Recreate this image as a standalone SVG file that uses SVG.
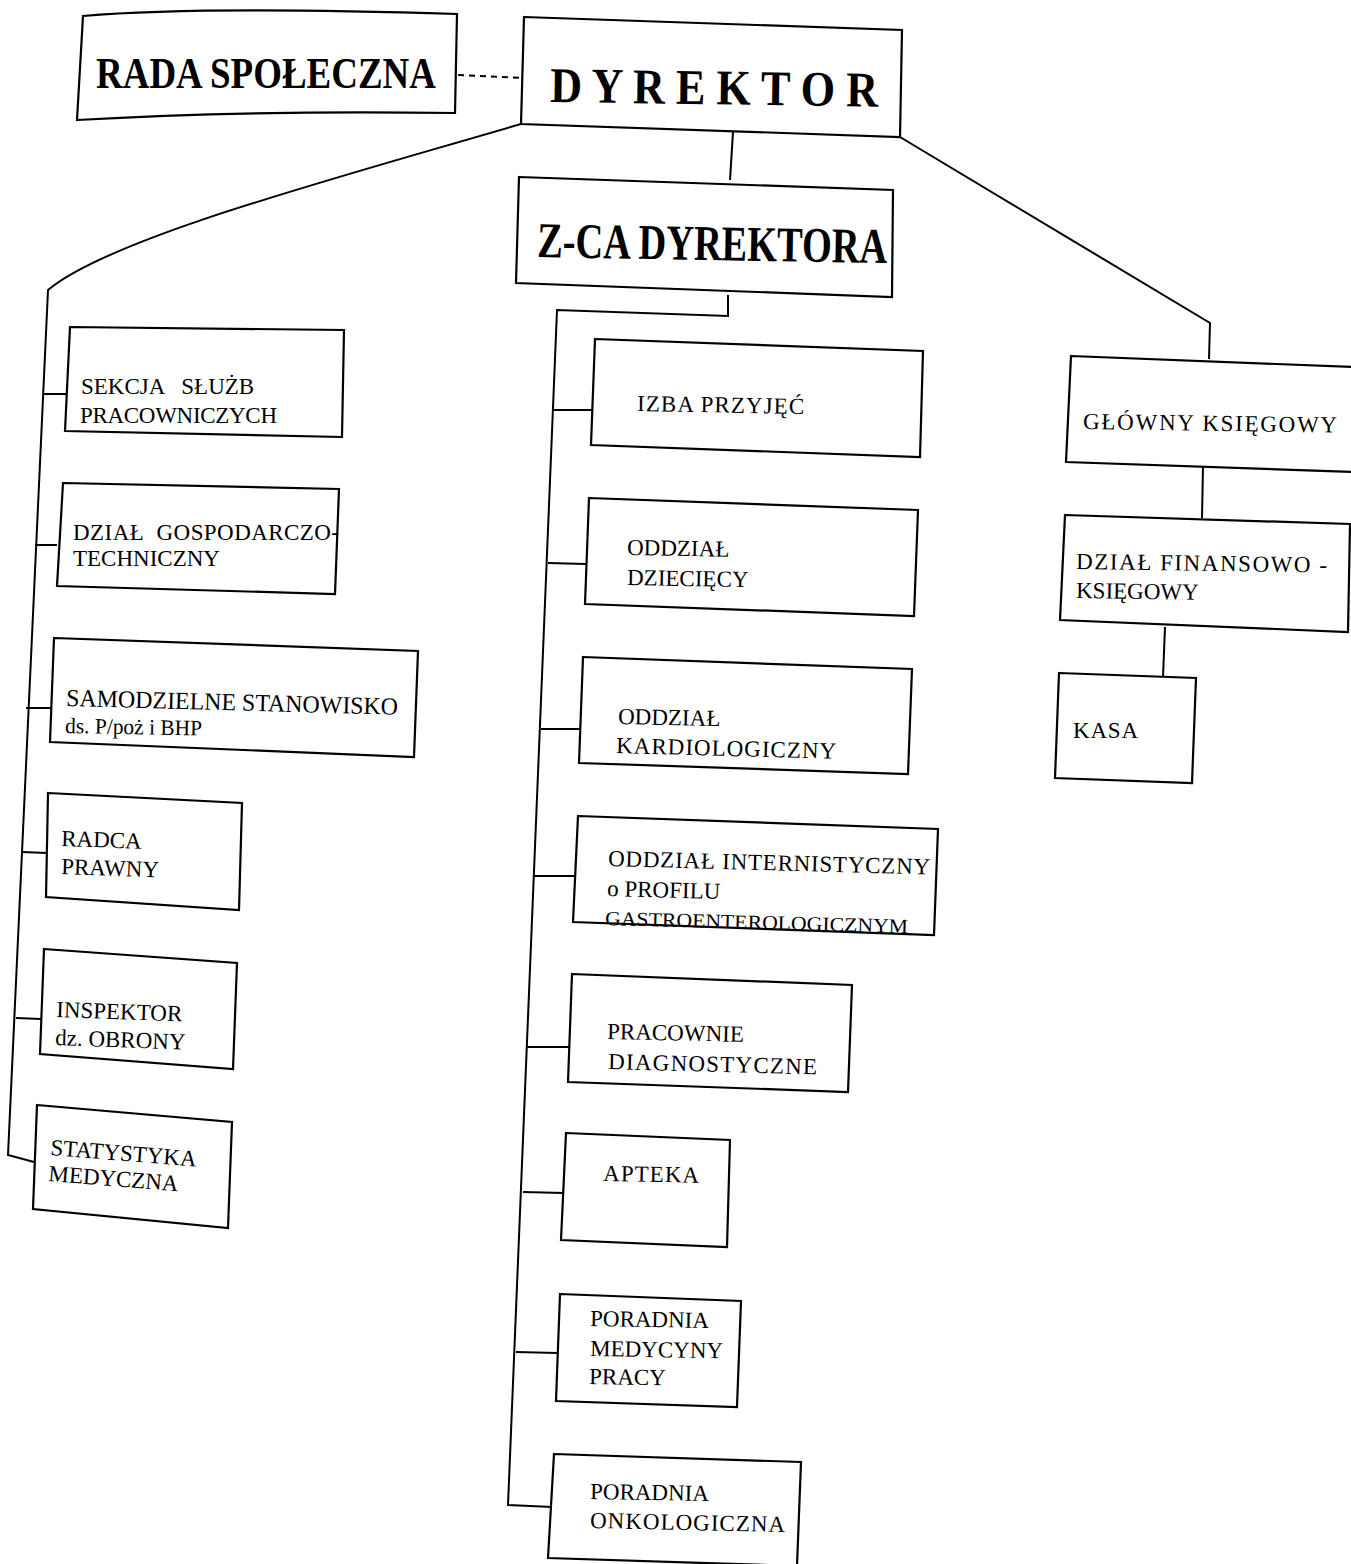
<svg xmlns="http://www.w3.org/2000/svg" width="1351" height="1564" viewBox="0 0 1351 1564">
<style>
.box{fill:#fff;stroke:#000;stroke-width:2.2;stroke-linejoin:miter}
.ln{fill:none;stroke:#000;stroke-width:2}
.t{font-family:"Liberation Serif","Times New Roman",serif;font-size:23px;fill:#000}
.big{font-family:"Liberation Serif","Times New Roman",serif;font-weight:bold;fill:#000}
.sm{font-size:20px}
</style>
<rect width="1351" height="1564" fill="#fff"/>
<g id="connectors">
<path class="ln" d="M458,75 L522,78" stroke-dasharray="6,5"/>
<path class="ln" d="M733,132 L730,180"/>
<path class="ln" d="M521,124 C330,180 110,238 48,290 L8,1155 L34,1162"/>
<path class="ln" d="M43,394 L67,394"/>
<path class="ln" d="M35,545 L57,545"/>
<path class="ln" d="M26,708 L51,708"/>
<path class="ln" d="M22,852 L47,853"/>
<path class="ln" d="M16,1018 L41,1019"/>
<path class="ln" d="M728,295 L728,316 L557,310 L508,1505 L552,1507"/>
<path class="ln" d="M553,410 L592,410"/>
<path class="ln" d="M548,563 L586,564"/>
<path class="ln" d="M541,729 L580,729"/>
<path class="ln" d="M534,876 L574,876"/>
<path class="ln" d="M526,1047 L569,1047"/>
<path class="ln" d="M523,1192 L564,1193"/>
<path class="ln" d="M516,1352 L557,1353"/>
<path class="ln" d="M900,137 L1210,323 L1209,359"/>
<path class="ln" d="M1203,466 L1202,518"/>
<path class="ln" d="M1165,627 L1163,677"/>
</g>
<g id="rada">
<path class="box" d="M83,16 Q200,6 457,14 L455,113 Q250,110 77,120 Z"/>
<text class="big" x="96" y="88" font-size="44" textLength="340" lengthAdjust="spacingAndGlyphs">RADA SPOŁECZNA</text>
</g>
<g id="dyrektor">
<polygon class="box" points="524,17 902,30 900,137 521,124"/>
<text class="big" x="550" y="102" font-size="50" textLength="328" lengthAdjust="spacingAndGlyphs" transform="rotate(0.8 550 102)">D Y R E K T O R</text>
</g>
<g id="zca">
<polygon class="box" points="519,177 893,190 892,297 516,283"/>
<text class="big" x="537" y="257" font-size="50" textLength="350" lengthAdjust="spacingAndGlyphs" transform="rotate(1 537 257)">Z-CA DYREKTORA</text>
</g>
<g id="sekcja">
<polygon class="box" points="70,327 344,330 342,437 65,431"/>
<text class="t" x="81" y="394" xml:space="preserve">SEKCJA   SŁUŻB</text>
<text class="t" x="80" y="423" textLength="197">PRACOWNICZYCH</text>
</g>
<g id="gospodarczy">
<polygon class="box" points="63,483 339,489 335,594 57,586"/>
<text class="t" x="73" y="540" xml:space="preserve" textLength="266">DZIAŁ  GOSPODARCZO-</text>
<text class="t" x="73" y="566">TECHNICZNY</text>
</g>
<g id="samodzielne">
<polygon class="box" points="54,638 418,651 414,757 50,742"/>
<text class="t" x="66" y="706" style="font-size:24.5px" textLength="332" lengthAdjust="spacingAndGlyphs" transform="rotate(1.5 66 706)">SAMODZIELNE STANOWISKO</text>
<text class="t" x="65" y="733" style="font-size:22px" textLength="137" lengthAdjust="spacingAndGlyphs" transform="rotate(1 65 733)">ds. P/poż i BHP</text>
</g>
<g id="radca">
<polygon class="box" points="48,793 242,803 239,910 46,897"/>
<text class="t" x="61" y="846" transform="rotate(2 61 846)">RADCA</text>
<text class="t" x="61" y="874" transform="rotate(2 61 874)">PRAWNY</text>
</g>
<g id="inspektor">
<polygon class="box" points="44,949 237,963 233,1069 40,1054"/>
<text class="t" x="56" y="1017" transform="rotate(2 56 1017)">INSPEKTOR</text>
<text class="t" x="55" y="1045" transform="rotate(2 55 1045)">dz. OBRONY</text>
</g>
<g id="statystyka">
<polygon class="box" points="37,1105 232,1122 228,1228 33,1209"/>
<text class="t" x="50" y="1155" transform="rotate(4.5 50 1155)">STATYSTYKA</text>
<text class="t" x="48" y="1181" transform="rotate(4.5 48 1181)">MEDYCZNA</text>
</g>
<g id="izba">
<polygon class="box" points="595,339 923,351 920,457 591,445"/>
<text class="t" x="637" y="411" textLength="167" transform="rotate(1 637 411)">IZBA PRZYJĘĆ</text>
</g>
<g id="dzieciecy">
<polygon class="box" points="589,498 918,510 914,616 585,604"/>
<text class="t" x="627" y="555" transform="rotate(1 627 555)">ODDZIAŁ</text>
<text class="t" x="627" y="585" transform="rotate(1 627 585)">DZIECIĘCY</text>
</g>
<g id="kardiologiczny">
<polygon class="box" points="583,657 912,669 908,774 579,763"/>
<text class="t" x="618" y="724" transform="rotate(1.2 618 724)">ODDZIAŁ</text>
<text class="t" x="616" y="753" textLength="220" transform="rotate(1.5 616 753)">KARDIOLOGICZNY</text>
</g>
<g id="internistyczny">
<polygon class="box" points="578,816 938,829 934,935 573,922"/>
<text class="t" x="608" y="866" textLength="322" transform="rotate(1.5 608 866)">ODDZIAŁ INTERNISTYCZNY</text>
<text class="t" x="607" y="896" transform="rotate(1.5 607 896)">o PROFILU</text>
<text class="t sm" x="605" y="925" textLength="303" lengthAdjust="spacingAndGlyphs" transform="rotate(1.5 605 925)">GASTROENTEROLOGICZNYM</text>
</g>
<g id="pracownie">
<polygon class="box" points="572,974 852,985 848,1092 568,1082"/>
<text class="t" x="607" y="1039" transform="rotate(1.2 607 1039)">PRACOWNIE</text>
<text class="t" x="608" y="1069" textLength="209" transform="rotate(1.5 608 1069)">DIAGNOSTYCZNE</text>
</g>
<g id="apteka">
<polygon class="box" points="566,1133 730,1140 727,1247 561,1240"/>
<text class="t" x="603" y="1181" textLength="96" transform="rotate(1 603 1181)">APTEKA</text>
</g>
<g id="medycyny">
<polygon class="box" points="560,1294 741,1301 737,1407 556,1401"/>
<text class="t" x="590" y="1326" transform="rotate(1 590 1326)">PORADNIA</text>
<text class="t" x="590" y="1356" transform="rotate(1 590 1356)">MEDYCYNY</text>
<text class="t" x="589" y="1384" transform="rotate(1 589 1384)">PRACY</text>
</g>
<g id="onkologiczna">
<polygon class="box" points="554,1454 801,1462 797,1566 548,1558"/>
<text class="t" x="590" y="1499" transform="rotate(1 590 1499)">PORADNIA</text>
<text class="t" x="590" y="1528" textLength="195" transform="rotate(1.2 590 1528)">ONKOLOGICZNA</text>
</g>
<g id="glowny">
<polygon class="box" points="1071,356 1353,367 1353,472 1066,462"/>
<text class="t" x="1083" y="429" textLength="254" transform="rotate(0.8 1083 429)">GŁÓWNY KSIĘGOWY</text>
</g>
<g id="finansowy">
<polygon class="box" points="1065,515 1350,524 1348,632 1060,620"/>
<text class="t" x="1076" y="569" textLength="251" transform="rotate(0.8 1076 569)">DZIAŁ FINANSOWO -</text>
<text class="t" x="1076" y="598" transform="rotate(0.8 1076 598)">KSIĘGOWY</text>
</g>
<g id="kasa">
<polygon class="box" points="1059,673 1196,678 1192,783 1055,778"/>
<text class="t" x="1073" y="738" textLength="65">KASA</text>
</g>
</svg>
